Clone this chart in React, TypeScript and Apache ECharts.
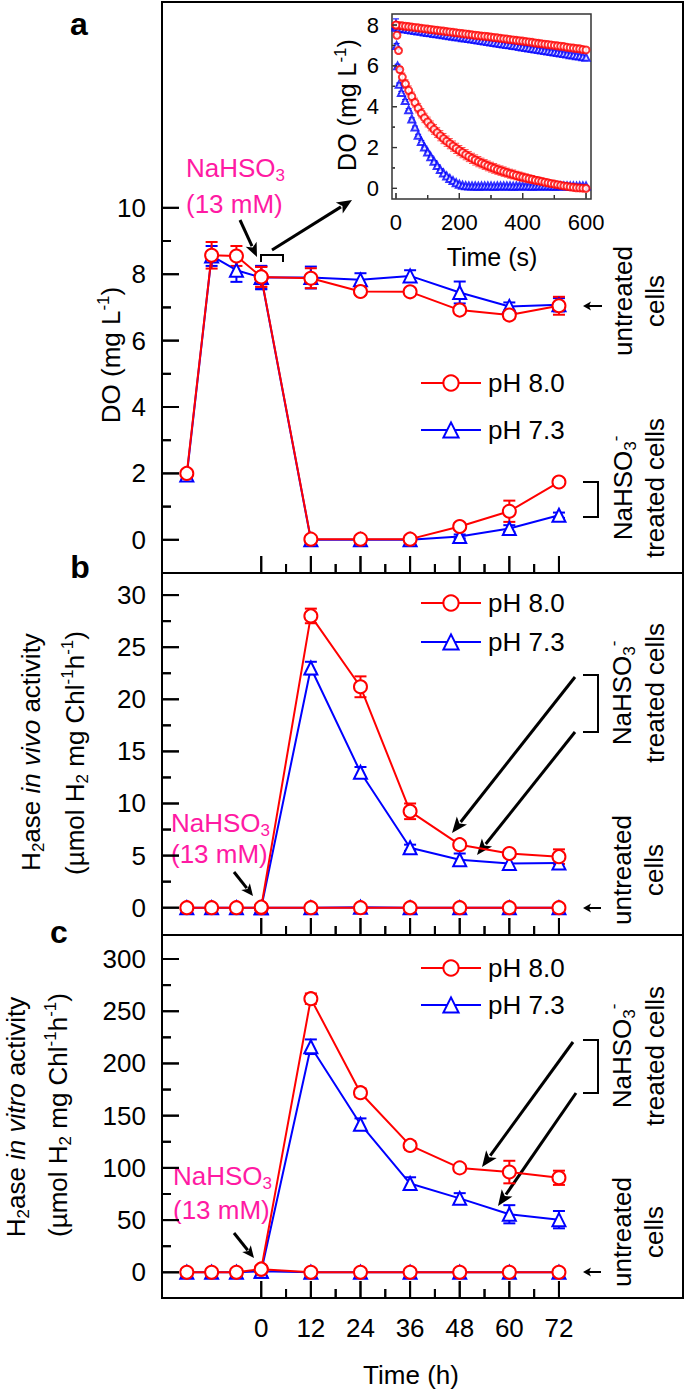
import React, { useEffect, useRef } from "react";
import * as echarts from "echarts";

const FONT = '"Liberation Sans", Arial, Helvetica, sans-serif';
const RED = "#ff0000";
const BLUE = "#0000ff";
const MAGENTA = "#ff1aa3";

// ---------- x values (h) ----------
const hours = [-18, -12, -6, 0, 12, 24, 36, 48, 60, 72];
const treatedHours = [0, 12, 24, 36, 48, 60, 72];
const hourTicks = [0, 12, 24, 36, 48, 60, 72];
const hourMinorTicks = [6, 18, 30, 42, 54, 66];

// ---------- panel a: DO (mg L-1) ----------
const doTicks = [0, 2, 4, 6, 8, 10];
const doMinorTicks = [1, 3, 5, 7, 9];
const doUntreated80 = [2.0, 8.57, 8.55, 7.92, 7.88, 7.48, 7.47, 6.92, 6.77, 7.05];
const doUntreated80Err = [0.05, 0.4, 0.3, 0.3, 0.3, 0.1, 0.1, 0.1, 0.12, 0.27];
const doUntreated73 = [1.95, 8.55, 8.12, 7.9, 7.9, 7.83, 7.95, 7.45, 7.03, 7.08];
const doUntreated73Err = [0.12, 0.3, 0.35, 0.35, 0.33, 0.2, 0.17, 0.33, 0.12, 0.2];
const doTreated80 = [7.92, 0.02, 0.02, 0.02, 0.4, 0.86, 1.74];
const doTreated80Err = [0.3, 0.04, 0.04, 0.04, 0.1, 0.32, 0.08];
const doTreated73 = [7.9, 0.0, 0.0, 0.0, 0.1, 0.34, 0.74];
const doTreated73Err = [0.35, 0.04, 0.04, 0.04, 0.06, 0.1, 0.08];

// ---------- panel b: in vivo activity ----------
const vivoTicks = [0, 5, 10, 15, 20, 25, 30];
const vivoMinorTicks = [2.5, 7.5, 12.5, 17.5, 22.5, 27.5];
const vivoUntreated80 = [0, 0, 0, 0, 0, 0, 0, 0, 0, 0];
const vivoUntreated73 = [0, 0, 0, 0, 0, 0.05, 0, 0, 0, 0];
const vivoTreated80 = [0.05, 28.0, 21.2, 9.25, 6.05, 5.2, 4.9];
const vivoTreated80Err = [0, 0.7, 1.0, 0.75, 0.3, 0.3, 0.7];
const vivoTreated73 = [0.0, 23.0, 13.0, 5.75, 4.6, 4.25, 4.28];
const vivoTreated73Err = [0, 0.6, 0.5, 0.3, 0.6, 0.6, 0.5];

// ---------- panel c: in vitro activity ----------
const vitroTicks = [0, 50, 100, 150, 200, 250, 300];
const vitroMinorTicks = [25, 75, 125, 175, 225, 275];
const vitroUntreated80 = [0, 0, 0, 3, 0, 0, 0, 0, 0, 0];
const vitroUntreated73 = [0, 0, 0, 1, 0, 0, 0, 0, 0, 0];
const vitroTreated80 = [3, 262, 172, 121.5, 100, 96, 90.5];
const vitroTreated80Err = [0, 5, 4, 4, 3, 10.8, 6.8];
const vitroTreated73 = [1, 216, 141.8, 85, 70.8, 55.6, 50.4];
const vitroTreated73Err = [0, 7, 5.6, 6, 5, 8.7, 8.3];

// ---------- inset: DO vs time (s) ----------
const insetTimeTicks = [0, 200, 400, 600];
const insetTimeMinorTicks = [100, 300, 500];
const insetDoTicks = [0, 2, 4, 6, 8];
const insetDoMinorTicks = [1, 3, 5, 7];
const insetTime = [0, 10, 20, 30, 40, 50, 60, 70, 80, 90, 100, 110, 120, 130, 140, 150, 160, 170, 180, 190, 200,
  210, 220, 230, 240, 250, 260, 270, 280, 290, 300, 310, 320, 330, 340, 350, 360, 370, 380, 390, 400,
  410, 420, 430, 440, 450, 460, 470, 480, 490, 500, 510, 520, 530, 540, 550, 560, 570, 580, 590, 600];
const insetUntreated80 = [8.0, 7.98, 7.96, 7.94, 7.92, 7.9, 7.88, 7.86, 7.84, 7.82, 7.8, 7.78, 7.76, 7.74, 7.72, 7.7,
  7.68, 7.66, 7.64, 7.62, 7.6, 7.58, 7.56, 7.54, 7.52, 7.5, 7.48, 7.46, 7.45, 7.43, 7.41, 7.39, 7.37, 7.35, 7.33,
  7.31, 7.29, 7.27, 7.25, 7.23, 7.21, 7.19, 7.17, 7.15, 7.12, 7.1, 7.08, 7.06, 7.04, 7.02, 7.0, 6.98, 6.96, 6.94,
  6.91, 6.89, 6.87, 6.85, 6.83, 6.8, 6.78];
const insetUntreated73 = [7.9, 7.86, 7.83, 7.8, 7.78, 7.76, 7.73, 7.71, 7.69, 7.66, 7.64, 7.62, 7.59, 7.57, 7.55,
  7.52, 7.5, 7.48, 7.45, 7.43, 7.41, 7.38, 7.36, 7.34, 7.31, 7.29, 7.27, 7.24, 7.22, 7.19, 7.17, 7.15, 7.12, 7.1,
  7.07, 7.05, 7.03, 7.0, 6.98, 6.95, 6.93, 6.9, 6.88, 6.85, 6.83, 6.8, 6.78, 6.75, 6.73, 6.7, 6.68, 6.65, 6.63,
  6.6, 6.58, 6.55, 6.53, 6.5, 6.48, 6.45, 6.42];
const insetTreated80Time = [0, 3, 8, 12, 20, 30, 40, 50, 60, 70, 80, 90, 100, 110, 120, 130, 140, 150, 160, 170,
  180, 190, 200, 210, 220, 230, 240, 250, 260, 270, 280, 290, 300, 310, 320, 330, 340, 350, 360, 370, 380, 390,
  400, 410, 420, 430, 440, 450, 460, 470, 480, 490, 500, 510, 520, 530, 540, 550, 560, 570, 580, 590, 600];
const insetTreated80 = [8.0, 7.5, 6.75, 5.82, 5.45, 5.12, 4.8, 4.5, 4.2, 3.93, 3.68, 3.45, 3.25, 3.06, 2.89, 2.73,
  2.58, 2.44, 2.31, 2.19, 2.07, 1.96, 1.85, 1.75, 1.65, 1.56, 1.47, 1.39, 1.31, 1.24, 1.17, 1.1, 1.04, 0.98, 0.92,
  0.87, 0.82, 0.77, 0.72, 0.68, 0.63, 0.59, 0.55, 0.51, 0.47, 0.44, 0.4, 0.37, 0.34, 0.3, 0.27, 0.24, 0.21, 0.18,
  0.15, 0.12, 0.1, 0.07, 0.05, 0.03, 0.02, 0.01, 0.0];
const insetTreated80Err = [0.05, 0.05, 0.1, 0.15, 0.2, 0.2, 0.22, 0.22, 0.22, 0.23, 0.23, 0.23, 0.24, 0.24, 0.24,
  0.24, 0.25, 0.25, 0.25, 0.25, 0.25, 0.25, 0.25, 0.25, 0.25, 0.25, 0.25, 0.25, 0.25, 0.24, 0.24, 0.24, 0.24, 0.24,
  0.23, 0.23, 0.23, 0.22, 0.22, 0.22, 0.21, 0.21, 0.2, 0.2, 0.19, 0.19, 0.18, 0.18, 0.17, 0.16, 0.15, 0.14, 0.13,
  0.12, 0.11, 0.1, 0.08, 0.07, 0.06, 0.05, 0.04, 0.03, 0.02];
const insetTreated73Time = [0, 2, 5, 10, 17, 29, 40, 50, 60, 70, 80, 90, 100, 110, 120, 130, 140, 150, 160, 170,
  180, 190, 200, 210, 220, 230, 240, 250, 260, 270, 280, 290, 300, 310, 320, 330, 340, 350, 360, 370, 380, 390,
  400, 410, 420, 430, 440, 450, 460, 470, 480, 490, 500, 510, 520, 530, 540, 550, 560, 570, 580, 590, 600];
const insetTreated73 = [8.0, 7.0, 6.0, 5.1, 4.7, 4.3, 3.85, 3.4, 3.0, 2.6, 2.3, 2.03, 1.78, 1.55, 1.33, 1.12, 0.92,
  0.75, 0.61, 0.49, 0.38, 0.28, 0.2, 0.15, 0.13, 0.12, 0.12, 0.12, 0.11, 0.12, 0.12, 0.12, 0.12, 0.11, 0.12, 0.12,
  0.12, 0.12, 0.12, 0.11, 0.12, 0.12, 0.12, 0.12, 0.12, 0.11, 0.12, 0.12, 0.12, 0.12, 0.12, 0.12, 0.11, 0.12, 0.12,
  0.12, 0.12, 0.12, 0.12, 0.11, 0.12, 0.12, 0.12];
const insetTreated73Err = [0.3, 0.1, 0.08, 0.06, 0.05, 0.05, 0.05, 0.05, 0.05, 0.05, 0.05, 0.04, 0.04, 0.04, 0.04,
  0.04, 0.04, 0.03, 0.03, 0.03, 0.03, 0.03, 0.03, 0.02, 0.02, 0.02, 0.02, 0.02, 0.02, 0.02, 0.02, 0.02, 0.02, 0.02,
  0.02, 0.02, 0.02, 0.02, 0.02, 0.02, 0.02, 0.02, 0.02, 0.02, 0.02, 0.02, 0.02, 0.02, 0.02, 0.02, 0.02, 0.02, 0.02,
  0.02, 0.02, 0.02, 0.02, 0.02, 0.02, 0.02, 0.02, 0.02, 0.02];

// ---------- layout ----------
const GRID_RECTS = [
  { left: 162, top: 2, width: 521, height: 571 },
  { left: 162, top: 573, width: 521, height: 362 },
  { left: 162, top: 935, width: 521, height: 363 },
  { left: 392, top: 14, width: 199, height: 185 },
];
const X_EXTS = [[-24, 102], [-24, 102], [-24, 102], [-12.6, 615.7]];
const Y_EXTS = [[-1.0, 16.2], [-2.62, 32.12], [-24.6, 323], [-0.52, 8.54]];

// ---------- helpers ----------
function zip(xs: number[], ys: number[]) {
  return xs.map((x, i) => [x, ys[i]]);
}

function axis(gridIndex: number, ext: number[]) {
  return {
    type: "value",
    gridIndex,
    min: ext[0],
    max: ext[1],
    axisLine: { show: false, onZero: false },
    axisTick: { show: false },
    axisLabel: { show: false },
    splitLine: { show: false },
  };
}

// tick marks as short segments through the axis scale
function xTickSeries(gi: number, values: number[], lenPx: number, color: string, lw: number) {
  const ext = Y_EXTS[gi];
  const unitsPerPx = (ext[1] - ext[0]) / GRID_RECTS[gi].height;
  return {
    type: "custom",
    name: "err",
    xAxisIndex: gi,
    yAxisIndex: gi,
    data: values.map((v) => [v, ext[0], ext[0] + lenPx * unitsPerPx]),
    encode: { x: 0, y: [1, 2] },
    z: 9,
    silent: true,
    renderItem: (params: any, api: any) => {
      const a = api.coord([api.value(0), api.value(1)]);
      const b = api.coord([api.value(0), api.value(2)]);
      return { type: "line", shape: { x1: a[0], y1: a[1], x2: b[0], y2: b[1] }, style: { stroke: color, lineWidth: lw } };
    },
  };
}

function yTickSeries(gi: number, values: number[], lenPx: number, color: string, lw: number) {
  const ext = X_EXTS[gi];
  const unitsPerPx = (ext[1] - ext[0]) / GRID_RECTS[gi].width;
  return {
    type: "custom",
    name: "err",
    xAxisIndex: gi,
    yAxisIndex: gi,
    data: values.map((v) => [ext[0], ext[0] + lenPx * unitsPerPx, v]),
    encode: { x: [0, 1], y: 2 },
    z: 9,
    silent: true,
    renderItem: (params: any, api: any) => {
      const a = api.coord([api.value(0), api.value(2)]);
      const b = api.coord([api.value(1), api.value(2)]);
      return { type: "line", shape: { x1: a[0], y1: a[1], x2: b[0], y2: b[1] }, style: { stroke: color, lineWidth: lw } };
    },
  };
}

// same ticks, also as graphic lines (linear mapping of the same axis extents)
function graphicTicks() {
  const els: any[] = [];
  const add = (g: number, dim: "x" | "y", values: number[], len: number, color: string, lw: number) => {
    const r = GRID_RECTS[g];
    const xe = X_EXTS[g];
    const ye = Y_EXTS[g];
    values.forEach((v) => {
      if (dim === "x") {
        const px = r.left + ((v - xe[0]) / (xe[1] - xe[0])) * r.width;
        const b = r.top + r.height;
        els.push({ type: "line", z: 100, silent: true, shape: { x1: px, y1: b - 1, x2: px, y2: b - len }, style: { stroke: color, lineWidth: lw } });
      } else {
        const py = r.top + r.height - ((v - ye[0]) / (ye[1] - ye[0])) * r.height;
        els.push({ type: "line", z: 100, silent: true, shape: { x1: r.left + 1, y1: py, x2: r.left + len, y2: py }, style: { stroke: color, lineWidth: lw } });
      }
    });
  };
  const yMajor = [doTicks, vivoTicks, vitroTicks];
  const yMinor = [doMinorTicks, vivoMinorTicks, vitroMinorTicks];
  for (let g = 0; g < 3; g++) {
    add(g, "x", hourTicks, 17, "#000", 2);
    add(g, "x", hourMinorTicks, 9, "#000", 2);
    add(g, "y", yMajor[g], 17, "#000", 2);
    add(g, "y", yMinor[g], 9, "#000", 2);
  }
  add(3, "x", insetTimeTicks, 6, "#333", 1.2);
  add(3, "x", insetTimeMinorTicks, 4, "#333", 1.2);
  add(3, "y", insetDoTicks, 5, "#333", 1.2);
  add(3, "y", insetDoMinorTicks, 3, "#333", 1.2);
  return els;
}

// tick labels placed through the axis scale
function labelSeries(gi: number, dim: "x" | "y", values: number[], size: number, offset: number) {
  return {
    type: "custom",
    name: "tick labels",
    xAxisIndex: gi,
    yAxisIndex: gi,
    silent: true,
    clip: false,
    z: 10,
    data: values.map((v) => (dim === "x" ? [v, 0] : [0, v])),
    renderItem: (params: any, api: any) => {
      const cs = params.coordSys;
      const p = api.coord([api.value(0), api.value(1)]);
      if (dim === "x") {
        return {
          type: "text",
          x: p[0],
          y: cs.y + cs.height + offset,
          style: { text: String(api.value(0)), fill: "#000", fontSize: size, fontFamily: FONT, align: "center", verticalAlign: "middle" },
        };
      }
      return {
        type: "text",
        x: cs.x - offset,
        y: p[1],
        style: { text: String(api.value(1)), fill: "#000", fontSize: size, fontFamily: FONT, align: "right", verticalAlign: "middle" },
      };
    },
  };
}

function lineSeries(name: string, gi: number, xs: number[], ys: number[], color: string, symbol: string, z: number) {
  return {
    type: "line",
    name,
    xAxisIndex: gi,
    yAxisIndex: gi,
    data: zip(xs, ys),
    symbol,
    symbolSize: 13,
    showSymbol: true,
    lineStyle: { color, width: 2 },
    itemStyle: { color, borderColor: color, borderWidth: 2 },
    z,
    silent: true,
  };
}

function scatterSeries(name: string, xs: number[], ys: number[], color: string, symbol: string, z: number) {
  return {
    type: "scatter",
    name,
    xAxisIndex: 3,
    yAxisIndex: 3,
    data: zip(xs, ys),
    symbol,
    symbolSize: 7,
    itemStyle: { color, borderColor: color, borderWidth: 1.2 },
    z,
    silent: true,
  };
}

function errSeries(gi: number, xs: number[], ys: number[], errs: number[], color: string, cap: number, lw: number, z = 1) {
  return {
    type: "custom",
    name: "err",
    xAxisIndex: gi,
    yAxisIndex: gi,
    data: xs.map((x, i) => [x, ys[i] - errs[i], ys[i] + errs[i]]),
    encode: { x: 0, y: [1, 2] },
    z,
    silent: true,
    renderItem: (params: any, api: any) => {
      const x = api.value(0);
      const top = api.coord([x, api.value(2)]);
      const bot = api.coord([x, api.value(1)]);
      const st = { stroke: color, lineWidth: lw };
      return {
        type: "group",
        children: [
          { type: "line", shape: { x1: top[0], y1: top[1], x2: bot[0], y2: bot[1] }, style: st },
          { type: "line", shape: { x1: top[0] - cap, y1: top[1], x2: top[0] + cap, y2: top[1] }, style: st },
          { type: "line", shape: { x1: bot[0] - cap, y1: bot[1], x2: bot[0] + cap, y2: bot[1] }, style: st },
        ],
      };
    },
  };
}

function rich(size: number, color: string, lh: number) {
  const s = Math.round(size * 0.66);
  return {
    n: { fontSize: size, fontFamily: FONT, lineHeight: lh, fill: color },
    i: { fontSize: size, fontFamily: FONT, fontStyle: "italic", lineHeight: lh, fill: color },
    sub: { fontSize: s, fontFamily: FONT, verticalAlign: "bottom", lineHeight: s + 1, fill: color },
    sup: { fontSize: s, fontFamily: FONT, verticalAlign: "top", lineHeight: s + 1, fill: color },
  };
}

function txt(x: number, y: number, text: string, o: any = {}) {
  const size = o.size || 26;
  const color = o.color || "#000";
  return {
    type: "text",
    x,
    y,
    rotation: o.rot || 0,
    silent: true,
    style: {
      text,
      fill: color,
      fontSize: size,
      fontFamily: FONT,
      fontWeight: o.weight || "normal",
      align: o.align || "center",
      verticalAlign: "middle",
      rich: rich(size, color, o.lh || size + 6),
    },
  };
}

function arrow(x1: number, y1: number, x2: number, y2: number, head: number, hw: number, lw: number) {
  const dx = x2 - x1;
  const dy = y2 - y1;
  const L = Math.hypot(dx, dy);
  const ux = dx / L;
  const uy = dy / L;
  const bx = x2 - ux * head;
  const by = y2 - uy * head;
  const px = -uy;
  const py = ux;
  return [
    { type: "line", silent: true, shape: { x1, y1, x2: bx + ux * 2, y2: by + uy * 2 }, style: { stroke: "#000", lineWidth: lw } },
    {
      type: "polygon",
      silent: true,
      shape: { points: [[x2, y2], [bx + px * hw, by + py * hw], [bx + ux * head * 0.25, by + uy * head * 0.25], [bx - px * hw, by - py * hw]] },
      style: { fill: "#000" },
    },
  ];
}

function bracket(points: number[][]) {
  return { type: "polyline", silent: true, shape: { points }, style: { stroke: "#000", lineWidth: 2, fill: "none" } };
}

function baseElements() {
  const nahso = "{n|NaHSO}{sub|3}";
  return [
    txt(79, 24, "a", { size: 32, weight: "bold" }),
    txt(80, 567, "b", { size: 32, weight: "bold" }),
    txt(59, 932, "c", { size: 32, weight: "bold" }),
    txt(111, 355, "{n|DO (mg L}{sup|-1}{n|)}", { rot: Math.PI / 2 }),
    txt(31, 752, "{n|H}{sub|2}{n|ase }{i|in vivo}{n| activity}", { rot: Math.PI / 2 }),
    txt(75, 753, "{n|(\u00b5mol H}{sub|2}{n| mg Chl}{sup|-1}{n|h}{sup|-1}{n|)}", { rot: Math.PI / 2 }),
    txt(16, 1117, "{n|H}{sub|2}{n|ase }{i|in vitro}{n| activity}", { rot: Math.PI / 2 }),
    txt(58, 1115, "{n|(\u00b5mol H}{sub|2}{n| mg Chl}{sup|-1}{n|h}{sup|-1}{n|)}", { rot: Math.PI / 2 }),
    txt(411, 1375, "{n|Time (h)}"),
    txt(347, 105, "{n|DO (mg L}{sup|-1}{n|)}", { rot: Math.PI / 2, size: 25 }),
    txt(492, 257, "{n|Time (s)}", { size: 25 }),
    txt(186, 168, nahso, { align: "left", color: MAGENTA }),
    txt(186, 204, "{n|(13 mM)}", { align: "left", color: MAGENTA }),
    txt(171, 823, nahso, { align: "left", color: MAGENTA }),
    txt(171, 854, "{n|(13 mM)}", { align: "left", color: MAGENTA }),
    txt(173, 1176, nahso, { align: "left", color: MAGENTA }),
    txt(173, 1210, "{n|(13 mM)}", { align: "left", color: MAGENTA }),
    txt(639, 301, "{n|untreated}\n{n|cells}", { rot: Math.PI / 2, lh: 32 }),
    txt(639, 488, "{n|NaHSO}{sub|3}{sup|-}\n{n|treated cells}", { rot: Math.PI / 2, lh: 32 }),
    txt(638, 693, "{n|NaHSO}{sub|3}{sup|-}\n{n|treated cells}", { rot: Math.PI / 2, lh: 33 }),
    txt(638, 870, "{n|untreated}\n{n|cells}", { rot: Math.PI / 2, lh: 32 }),
    txt(638, 1056, "{n|NaHSO}{sub|3}{sup|-}\n{n|treated cells}", { rot: Math.PI / 2, lh: 33 }),
    txt(638, 1232, "{n|untreated}\n{n|cells}", { rot: Math.PI / 2, lh: 32 }),
    bracket([[261, 262], [261, 255], [283, 255], [283, 262]]),
    bracket([[583, 482], [598, 482], [598, 517], [583, 517]]),
    bracket([[583, 675], [598, 675], [598, 732], [583, 732]]),
    bracket([[583, 1040], [598, 1040], [598, 1093], [583, 1093]]),
    ...arrow(240, 220, 257, 257, 14, 6, 3),
    ...arrow(272, 250, 352, 200, 15, 6.5, 3),
    ...arrow(234, 872, 253, 896, 12, 5.5, 3),
    ...arrow(234, 1233, 254, 1258, 12, 5.5, 3),
    ...arrow(575, 677, 452, 833, 16, 6.5, 3),
    ...arrow(575, 732, 477, 855, 16, 6.5, 3),
    ...arrow(573, 1042, 482, 1167, 16, 6.5, 3),
    ...arrow(576, 1093, 498, 1206, 16, 6.5, 3),
    ...arrow(602, 306, 583, 306, 8, 4.5, 2),
    ...arrow(601, 908, 583, 908, 8, 4.5, 2),
    ...arrow(601, 1272, 583, 1272, 8, 4.5, 2),
    ...graphicTicks(),
  ];
}

function buildOption() {
  const grids: any[] = GRID_RECTS.map((g, i) =>
    i < 3
      ? { ...g, show: true, borderColor: "#000", borderWidth: 2, backgroundColor: "transparent" }
      : { ...g, show: true, borderColor: "#333", borderWidth: 1.5, backgroundColor: "#fff" }
  );
  const xAxis = X_EXTS.map((e, i) => axis(i, e));
  const yAxis = Y_EXTS.map((e, i) => axis(i, e));

  const yMajor = [doTicks, vivoTicks, vitroTicks];
  const yMinor = [doMinorTicks, vivoMinorTicks, vitroMinorTicks];
  const ticks: any[] = [];
  for (let g = 0; g < 3; g++) {
    ticks.push(xTickSeries(g, hourTicks, 17, "#000", 2));
    ticks.push(xTickSeries(g, hourMinorTicks, 9, "#000", 2));
    ticks.push(yTickSeries(g, yMajor[g], 17, "#000", 2));
    ticks.push(yTickSeries(g, yMinor[g], 9, "#000", 2));
  }
  ticks.push(xTickSeries(3, insetTimeTicks, 6, "#333", 1.2));
  ticks.push(xTickSeries(3, insetTimeMinorTicks, 4, "#333", 1.2));
  ticks.push(yTickSeries(3, insetDoTicks, 5, "#333", 1.2));
  ticks.push(yTickSeries(3, insetDoMinorTicks, 3, "#333", 1.2));

  const series: any[] = [
    ...ticks,
    // panel a
    lineSeries("pH 8.0", 0, hours, doUntreated80, RED, "emptyCircle", 4),
    lineSeries("pH 7.3", 0, hours, doUntreated73, BLUE, "emptyTriangle", 3),
    lineSeries("pH 7.3", 0, treatedHours, doTreated73, BLUE, "emptyTriangle", 3),
    lineSeries("pH 8.0", 0, treatedHours, doTreated80, RED, "emptyCircle", 4),
    errSeries(0, hours, doUntreated73, doUntreated73Err, BLUE, 6, 2),
    errSeries(0, treatedHours, doTreated73, doTreated73Err, BLUE, 6, 2),
    errSeries(0, hours, doUntreated80, doUntreated80Err, RED, 6, 2),
    errSeries(0, treatedHours, doTreated80, doTreated80Err, RED, 6, 2),
    // panel b
    errSeries(1, treatedHours, vivoTreated73, vivoTreated73Err, BLUE, 6, 2),
    errSeries(1, treatedHours, vivoTreated80, vivoTreated80Err, RED, 6, 2),
    lineSeries("pH 7.3", 1, hours, vivoUntreated73, BLUE, "emptyTriangle", 3),
    lineSeries("pH 7.3", 1, treatedHours, vivoTreated73, BLUE, "emptyTriangle", 3),
    lineSeries("pH 8.0", 1, hours, vivoUntreated80, RED, "emptyCircle", 4),
    lineSeries("pH 8.0", 1, treatedHours, vivoTreated80, RED, "emptyCircle", 4),
    // panel c
    errSeries(2, treatedHours, vitroTreated73, vitroTreated73Err, BLUE, 6, 2),
    errSeries(2, treatedHours, vitroTreated80, vitroTreated80Err, RED, 6, 2),
    lineSeries("pH 7.3", 2, hours, vitroUntreated73, BLUE, "emptyTriangle", 3),
    lineSeries("pH 7.3", 2, treatedHours, vitroTreated73, BLUE, "emptyTriangle", 3),
    lineSeries("pH 8.0", 2, hours, vitroUntreated80, RED, "emptyCircle", 4),
    lineSeries("pH 8.0", 2, treatedHours, vitroTreated80, RED, "emptyCircle", 4),
    // inset
    errSeries(3, insetTreated73Time, insetTreated73, insetTreated73Err, BLUE, 3, 1, 5),
    scatterSeries("inset 7.3 untreated", insetTime, insetUntreated73, BLUE, "emptyTriangle", 6),
    scatterSeries("inset 7.3 treated", insetTreated73Time, insetTreated73, BLUE, "emptyTriangle", 6),
    errSeries(3, insetTreated80Time, insetTreated80, insetTreated80Err, "#ff5050", 3, 1, 7),
    scatterSeries("inset 8.0 untreated", insetTime, insetUntreated80, RED, "emptyCircle", 8),
    scatterSeries("inset 8.0 treated", insetTreated80Time, insetTreated80, RED, "emptyCircle", 8),
    // tick labels
    labelSeries(0, "y", doTicks, 26, 16),
    labelSeries(1, "y", vivoTicks, 26, 16),
    labelSeries(2, "y", vitroTicks, 26, 16),
    labelSeries(2, "x", hourTicks, 26, 30),
    labelSeries(3, "x", insetTimeTicks, 22, 23),
    labelSeries(3, "y", insetDoTicks, 22, 13),
  ];

  const legendTops = [365, 585, 950];
  const legendGaps = [21, 13, 11];
  const legend = legendTops.map((top, i) => ({
    orient: "vertical",
    left: 415,
    top,
    itemWidth: 60,
    itemHeight: 19,
    itemGap: legendGaps[i],
    selectedMode: false,
    data: ["pH 8.0", "pH 7.3"],
    textStyle: { fontSize: 26, color: "#000", fontFamily: FONT, padding: [0, 0, 0, 2] },
  }));

  return {
    animation: false,
    grid: grids,
    xAxis,
    yAxis,
    legend,
    series,
    graphic: { elements: baseElements() },
  };
}

export default function App() {
  const ref = useRef<HTMLDivElement>(null);
  useEffect(() => {
    document.body.style.margin = "0";
    const chart = echarts.init(ref.current as HTMLDivElement, null, { renderer: "svg" });
    chart.setOption(buildOption() as any);
    return () => chart.dispose();
  }, []);
  return <div ref={ref} style={{ width: 685, height: 1392, background: "#fff" }} />;
}
